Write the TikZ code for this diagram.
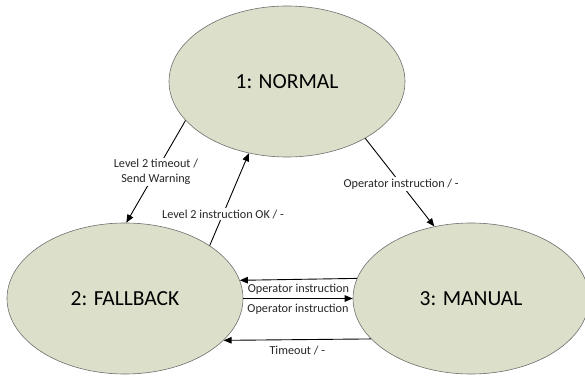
\documentclass[tikz,border=0pt]{standalone}
\usepackage{fontspec}
\setmainfont{Carlito}
\usetikzlibrary{shapes.geometric,arrows.meta}
\definecolor{statefill}{RGB}{220,224,202}
\definecolor{stateline}{RGB}{110,110,110}
\tikzset{
  state/.style={ellipse, draw=stateline, line width=0.6pt, fill=statefill,
    minimum width=236pt, minimum height=151pt, inner sep=0pt,
    font=\fontsize{21.5}{26}\selectfont},
  trans/.style={draw=black, line width=0.9pt, -{Triangle[length=8pt,width=6.5pt]}},
  lbl/.style={font=\fontsize{12.2}{14.5}\selectfont, text=black!85, inner sep=1.5pt, align=center},
}
\begin{document}
\begin{tikzpicture}[x=1pt,y=-1pt]
\useasboundingbox (0,0) rectangle (585,379);
\node[state] (n1) at (287,81.5) {1: NORMAL};
\node[state] (n2) at (125,298.5) {2: FALLBACK};
\node[state] (n3) at (471,298.5) {3: MANUAL};

\draw[trans] (n1.201.7) -- node[lbl, midway, fill=white] {Level 2 timeout /\\Send Warning} (n2.89);
\draw[trans] (n2.32.5) -- node[lbl, pos=0.34, fill=white] {Level 2 instruction OK / -} (n1.242.3);
\draw[trans] (n1.324.1) -- node[lbl, pos=0.52, fill=white] {Operator instruction / -} (n3.117.2);

\draw[trans] (n3.170.82) -- node[lbl, midway, yshift=-9.5pt] {Operator instruction} (n2.9.18);
\draw[trans] (n2.east) -- node[lbl, midway, yshift=-10.5pt] {Operator instruction} (n3.west);
\draw[trans] (n3.202.1) -- node[lbl, midway, yshift=-11pt] {Timeout / -} (n2.337.9);
\end{tikzpicture}
\end{document}
